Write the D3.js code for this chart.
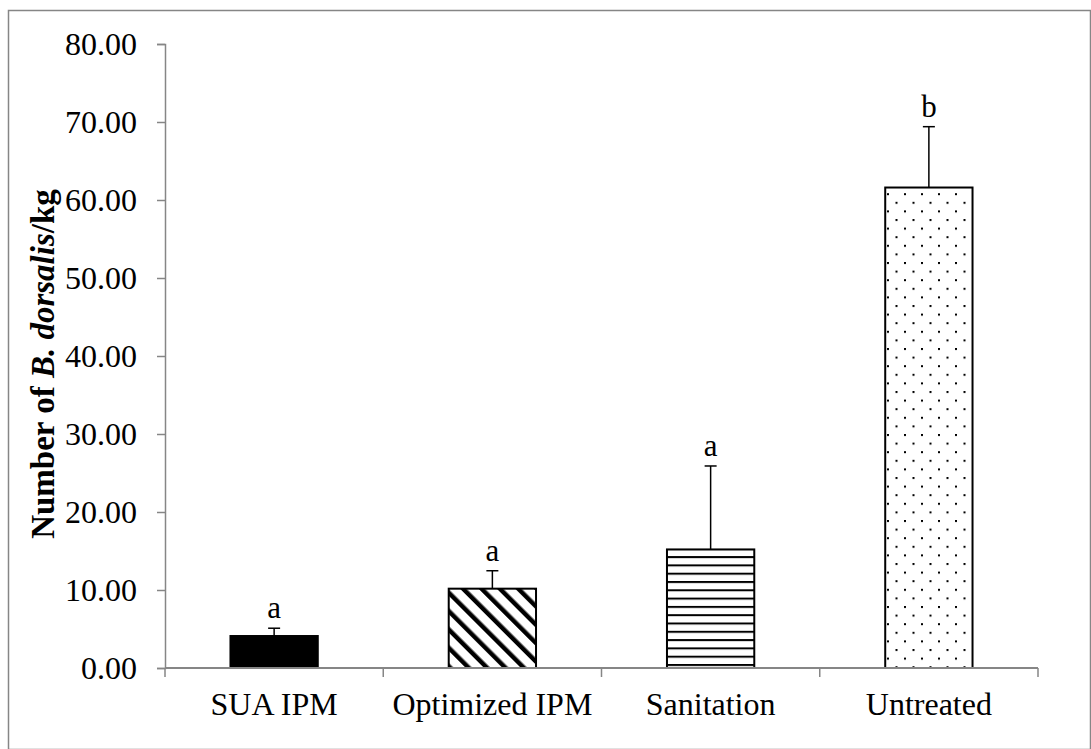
<!DOCTYPE html>
<html lang="en">
<head>
<meta charset="utf-8" />
<title>B. dorsalis per kg</title>
<style>
html,body{margin:0;background:#fff}
text{font-family:"Liberation Serif","Times New Roman",serif;fill:#000}
</style>
<script src="https://cdn.jsdelivr.net/npm/d3@7/dist/d3.min.js"></script>
</head>
<body>
<div id="chart"></div>
<script>
/* ---------------- data ---------------- */
const categories = ["SUA IPM", "Optimized IPM", "Sanitation", "Untreated"];
const means      = [4.10, 10.17, 15.20, 61.60];
const errors     = [1.00, 2.30, 10.70, 7.80];
const letters    = ["a", "a", "a", "b"];
const fills      = ["solid", "diag", "horiz", "dots"];
const yTicks     = [0, 10, 20, 30, 40, 50, 60, 70, 80];

/* ---------------- layout ---------------- */
const W = 1091, H = 749;
const m = {left: 165, right: 53, top: 44, bottom: 81};
const axisCol = "#868686";
const fs = 32;

const svg = d3.select("#chart").append("svg")
  .attr("width", W).attr("height", H);

// outer frame
svg.append("rect")
  .attr("x", 8.5).attr("y", 10.5)
  .attr("width", W - 9).attr("height", H - 10)
  .attr("fill", "none").attr("stroke", axisCol).attr("stroke-width", 1.5);

/* patterns */
const defs = svg.append("defs");
const pd = defs.append("pattern").attr("id", "diag")
  .attr("patternUnits", "userSpaceOnUse").attr("width", 13).attr("height", 13)
  .attr("patternTransform", "rotate(-45)");
pd.append("rect").attr("width", 13).attr("height", 13).attr("fill", "#fff");
pd.append("rect").attr("x", 0).attr("width", 4.5).attr("height", 13).attr("fill", "#000");

const ph = defs.append("pattern").attr("id", "horiz")
  .attr("patternUnits", "userSpaceOnUse").attr("width", 8).attr("height", 8.3);
ph.append("rect").attr("width", 8).attr("height", 8.3).attr("fill", "#fff");
ph.append("rect").attr("y", 0).attr("width", 8).attr("height", 2).attr("fill", "#000");

const pdots = defs.append("pattern").attr("id", "dots")
  .attr("patternUnits", "userSpaceOnUse").attr("width", 17).attr("height", 17.2)
  .attr("x", 3).attr("y", 4);
pdots.append("rect").attr("width", 17).attr("height", 17.2).attr("fill", "#fff");
pdots.append("rect").attr("x", 0).attr("y", 0).attr("width", 2).attr("height", 2).attr("fill", "#000");
pdots.append("rect").attr("x", 8.5).attr("y", 8.6).attr("width", 2).attr("height", 2).attr("fill", "#000");

/* scales */
const x = d3.scaleBand().domain(categories)
  .range([m.left, W - m.right]).paddingInner(0.6).paddingOuter(0.3);
const xb = d3.scaleBand().domain(categories).range([m.left, W - m.right]);
const y = d3.scaleLinear().domain([0, 80]).range([H - m.bottom, m.top]);

/* y axis */
const yAxis = svg.append("g")
  .attr("transform", `translate(${m.left},0)`)
  .call(d3.axisLeft(y).tickValues(yTicks).tickFormat(d3.format(".2f")).tickSize(8).tickPadding(20));
yAxis.select(".domain").attr("stroke", axisCol).attr("stroke-width", 1.5);
yAxis.selectAll(".tick line").attr("stroke", axisCol).attr("stroke-width", 1.5);
yAxis.selectAll("text").attr("font-family", "Liberation Serif, serif")
  .attr("font-size", fs).attr("fill", "#000");

/* bars */
const fillFor = f => f === "solid" ? "#000" : `url(#${f})`;
svg.append("g").selectAll("rect").data(categories).join("rect")
  .attr("x", d => x(d)).attr("width", x.bandwidth())
  .attr("y", (d, i) => y(means[i]))
  .attr("height", (d, i) => y(0) - y(means[i]))
  .attr("fill", (d, i) => fillFor(fills[i]))
  .attr("stroke", "#000").attr("stroke-width", 2);

/* x axis (drawn over bar bottoms) */
const x0 = y(0);
svg.append("line").attr("x1", m.left).attr("x2", W - m.right)
  .attr("y1", x0).attr("y2", x0).attr("stroke", axisCol).attr("stroke-width", 2);
const bounds = [m.left].concat(categories.map(c => xb(c) + xb.bandwidth()));
svg.append("g").selectAll("line").data(bounds).join("line")
  .attr("x1", d => d).attr("x2", d => d)
  .attr("y1", x0).attr("y2", x0 + 9)
  .attr("stroke", axisCol).attr("stroke-width", 1.5);
svg.append("g").selectAll("text").data(categories).join("text")
  .attr("x", d => xb(d) + xb.bandwidth() / 2)
  .attr("y", x0 + 47)
  .attr("text-anchor", "middle").attr("font-size", fs)
  .text(d => d);

/* error bars */
const eb = svg.append("g").attr("stroke", "#000").attr("stroke-width", 1.5);
categories.forEach((c, i) => {
  const cx = x(c) + x.bandwidth() / 2;
  const top = y(means[i] + errors[i]);
  eb.append("line").attr("x1", cx).attr("x2", cx)
    .attr("y1", y(means[i])).attr("y2", top);
  eb.append("line").attr("x1", cx - 6).attr("x2", cx + 6)
    .attr("y1", top).attr("y2", top);
  svg.append("text").attr("x", cx).attr("y", top - 10)
    .attr("text-anchor", "middle").attr("font-size", 31).text(letters[i]);
});

/* y label */
const yl = svg.append("text")
  .attr("transform", `translate(54,364) rotate(-90)`)
  .attr("text-anchor", "middle").attr("font-size", 33).attr("font-weight", "bold");
yl.append("tspan").text("Number of ");
yl.append("tspan").attr("font-style", "italic").text("B. dorsalis");
yl.append("tspan").text("/kg");
</script>
</body>
</html>
